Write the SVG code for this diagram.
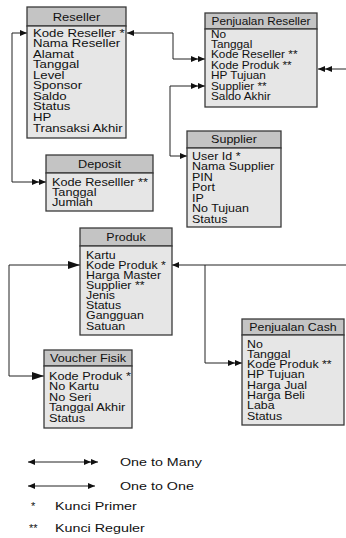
<svg xmlns="http://www.w3.org/2000/svg" width="346" height="538" viewBox="0 0 346 538">
<style>
.hd{fill:#c4c4c4;stroke:#3a3a3a;stroke-width:1.3}
.bd{fill:#e6e6e6;stroke:#3a3a3a;stroke-width:1.3}
text{font-family:"Liberation Sans",Arial,sans-serif;font-size:10px;fill:#111}
.ht{text-anchor:middle}
.lg{font-size:11px}
.cn{fill:none;stroke:#222;stroke-width:1}
</style>
<defs>
<marker id="arrS" viewBox="0 0 7 6" markerWidth="7" markerHeight="6" refX="7" refY="3" orient="auto-start-reverse" markerUnits="userSpaceOnUse"><path d="M0,0 L7,3 L0,6 z" fill="#111"/></marker>
<marker id="arrD" viewBox="0 0 14 6" markerWidth="14" markerHeight="6" refX="14" refY="3" orient="auto-start-reverse" markerUnits="userSpaceOnUse"><path d="M0,0 L7,3 L0,6 z M7,0 L14,3 L7,6 z" fill="#111"/></marker>
<marker id="arrB" viewBox="0 0 12 8" markerWidth="12" markerHeight="8" refX="12" refY="4" orient="auto-start-reverse" markerUnits="userSpaceOnUse"><path d="M0,0 L12,4 L0,8 z" fill="#111"/></marker>
</defs>

<g id="connectors">
<path class="cn" d="M27,33 H12 V182 H46" marker-start="url(#arrS)" marker-end="url(#arrD)"/>
<path class="cn" d="M127,33 H173 V59 H205" marker-start="url(#arrS)" marker-end="url(#arrD)"/>
<path class="cn" d="M187,156 H170 V86 H205" marker-start="url(#arrS)" marker-end="url(#arrD)"/>
<path class="cn" d="M80,265 H9 V376 H44" marker-start="url(#arrB)" marker-end="url(#arrB)"/>
<path class="cn" d="M172,265 H346" marker-start="url(#arrS)"/>
<path class="cn" d="M205,265 V363 H242" marker-end="url(#arrD)"/>
<path class="cn" d="M346,69 H318" marker-end="url(#arrD)"/>
</g>

<g id="reseller">
<rect class="hd" x="27" y="7" width="99" height="19"/>
<rect class="bd" x="27" y="26" width="99" height="112"/>
<g transform="translate(76.5,0) scale(1.3,1)"><text class="ht" x="0" y="20.6">Reseller</text></g>
<g transform="translate(33,0) scale(1.32,1)">
<text x="0" y="36.6">Kode Reseller *</text>
<text x="0" y="47.2">Nama Reseller</text>
<text x="0" y="57.7">Alamat</text>
<text x="0" y="68.3">Tanggal</text>
<text x="0" y="78.8">Level</text>
<text x="0" y="89.4">Sponsor</text>
<text x="0" y="99.9">Saldo</text>
<text x="0" y="110.5">Status</text>
<text x="0" y="121">HP</text>
<text x="0" y="131.6">Transaksi Akhir</text>
</g>
</g>

<g id="penjualan-reseller">
<rect class="hd" x="205" y="13" width="112" height="16"/>
<rect class="bd" x="205" y="29" width="112" height="78"/>
<g transform="translate(261,0) scale(1.18,1)"><text class="ht" x="0" y="24.6">Penjualan Reseller</text></g>
<g transform="translate(211,0) scale(1.18,1)">
<text x="0" y="37.6">No</text>
<text x="0" y="48">Tanggal</text>
<text x="0" y="58.4">Kode Reseller **</text>
<text x="0" y="68.8">Kode Produk **</text>
<text x="0" y="79.2">HP Tujuan</text>
<text x="0" y="89.6">Supplier **</text>
<text x="0" y="100">Saldo Akhir</text>
</g>
</g>

<g id="supplier">
<rect class="hd" x="187" y="131" width="94" height="17"/>
<rect class="bd" x="187" y="148" width="94" height="79"/>
<g transform="translate(234,0) scale(1.25,1)"><text class="ht" x="0" y="143">Supplier</text></g>
<g transform="translate(192,0) scale(1.25,1)">
<text x="0" y="159.6">User Id *</text>
<text x="0" y="170.1">Nama Supplier</text>
<text x="0" y="180.6">PIN</text>
<text x="0" y="191.1">Port</text>
<text x="0" y="201.6">IP</text>
<text x="0" y="212.1">No Tujuan</text>
<text x="0" y="222.6">Status</text>
</g>
</g>

<g id="deposit">
<rect class="hd" x="46" y="155" width="107" height="18"/>
<rect class="bd" x="46" y="173" width="107" height="38"/>
<g transform="translate(99.5,0) scale(1.27,1)"><text class="ht" x="0" y="167.6">Deposit</text></g>
<g transform="translate(52,0) scale(1.27,1)">
<text x="0" y="185.6">Kode Reselller **</text>
<text x="0" y="195.8">Tanggal</text>
<text x="0" y="206">Jumlah</text>
</g>
</g>

<g id="produk">
<rect class="hd" x="80" y="228" width="92" height="18"/>
<rect class="bd" x="80" y="246" width="92" height="89"/>
<g transform="translate(126,0) scale(1.24,1)"><text class="ht" x="0" y="240.6">Produk</text></g>
<g transform="translate(86,0) scale(1.24,1)">
<text x="0" y="258.6">Kartu</text>
<text x="0" y="268.8">Kode Produk *</text>
<text x="0" y="278.9">Harga Master</text>
<text x="0" y="289.1">Supplier **</text>
<text x="0" y="299.2">Jenis</text>
<text x="0" y="309.4">Status</text>
<text x="0" y="319.5">Gangguan</text>
<text x="0" y="329.7">Satuan</text>
</g>
</g>

<g id="voucher-fisik">
<rect class="hd" x="44" y="350" width="88" height="16"/>
<rect class="bd" x="44" y="366" width="88" height="62"/>
<g transform="translate(88,0) scale(1.27,1)"><text class="ht" x="0" y="361.6">Voucher Fisik</text></g>
<g transform="translate(49,0) scale(1.27,1)">
<text x="0" y="379.6">Kode Produk *</text>
<text x="0" y="390.1">No Kartu</text>
<text x="0" y="400.6">No Seri</text>
<text x="0" y="411.1">Tanggal Akhir</text>
<text x="0" y="421.6">Status</text>
</g>
</g>

<g id="penjualan-cash">
<rect class="hd" x="242" y="319" width="102" height="16"/>
<rect class="bd" x="242" y="335" width="102" height="90"/>
<g transform="translate(293,0) scale(1.24,1)"><text class="ht" x="0" y="330.6">Penjualan Cash</text></g>
<g transform="translate(247,0) scale(1.24,1)">
<text x="0" y="347.6">No</text>
<text x="0" y="357.9">Tanggal</text>
<text x="0" y="368.2">Kode Produk **</text>
<text x="0" y="378.5">HP Tujuan</text>
<text x="0" y="388.8">Harga Jual</text>
<text x="0" y="399.1">Harga Beli</text>
<text x="0" y="409.4">Laba</text>
<text x="0" y="419.7">Status</text>
</g>
</g>

<g id="legend">
<path class="cn" d="M28,462 H98" marker-start="url(#arrS)" marker-end="url(#arrD)"/>
<path class="cn" d="M28,486 H95" marker-start="url(#arrS)" marker-end="url(#arrS)"/>
<g transform="translate(120,0) scale(1.3,1)">
<text class="lg" x="0" y="466">One to Many</text>
<text class="lg" x="0" y="490">One to One</text>
</g>
<text class="lg" x="31" y="510">*</text>
<text class="lg" x="29" y="532">**</text>
<g transform="translate(55,0) scale(1.3,1)">
<text class="lg" x="0" y="510">Kunci Primer</text>
<text class="lg" x="0" y="532">Kunci Reguler</text>
</g>
</g>
</svg>
